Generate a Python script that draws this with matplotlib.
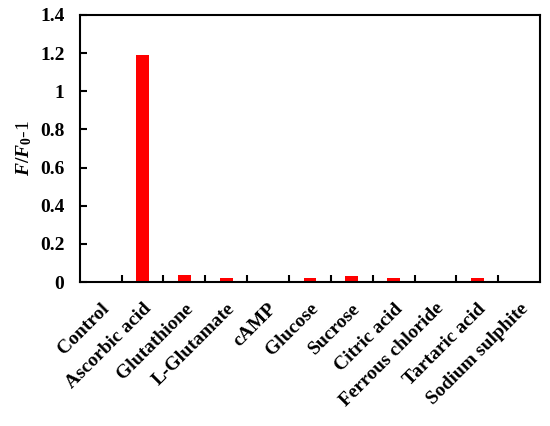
import numpy as np
import matplotlib
matplotlib.use("Agg")
import matplotlib.pyplot as plt

plt.rcParams["font.family"] = "Liberation Serif"
plt.rcParams["font.weight"] = "bold"
plt.rcParams["mathtext.fontset"] = "custom"
plt.rcParams["mathtext.it"] = "Liberation Serif:italic:bold"
plt.rcParams["mathtext.rm"] = "Liberation Serif:bold"

categories = ["Control", "Ascorbic acid", "Glutathione", "L-Glutamate", "cAMP",
              "Glucose", "Sucrose", "Citric acid", "Ferrous chloride",
              "Tartaric acid", "Sodium sulphite"]
values = [0.0, 1.19, 0.035, 0.022, 0.0, 0.02, 0.03, 0.02, 0.0, 0.02, 0.0]

fig = plt.figure(figsize=(5.5, 4.26), dpi=100)
ax = fig.add_axes([0.145, 0.338, 0.837, 0.627])

x = np.arange(len(categories))
ax.bar(x, values, width=0.3, color="#ff0000")

ax.set_xlim(-0.5, len(categories) - 0.5)
ax.set_ylim(0, 1.4)
ax.set_yticks(np.arange(0, 1.41, 0.2))
ax.set_yticklabels(["0", "0.2", "0.4", "0.6", "0.8", "1", "1.2", "1.4"])

ax.set_xticks(x)
ax.set_xticklabels(categories, rotation=45, ha="right", rotation_mode="anchor")
ax.tick_params(axis="x", length=0, labelsize=14, pad=13)
ax.set_xticks(x[:-1] + 0.5, minor=True)
ax.tick_params(axis="x", which="minor", direction="in", length=5, width=1.5)
ax.tick_params(axis="y", direction="in", length=5, width=1.5, labelsize=14, pad=11)

for s in ax.spines.values():
    s.set_linewidth(1.5)

# italic F's, plain "-1"
ax.set_ylabel(r"$F/F_0$-1", fontsize=14, labelpad=4)

fig.savefig("out.png", dpi=100)
